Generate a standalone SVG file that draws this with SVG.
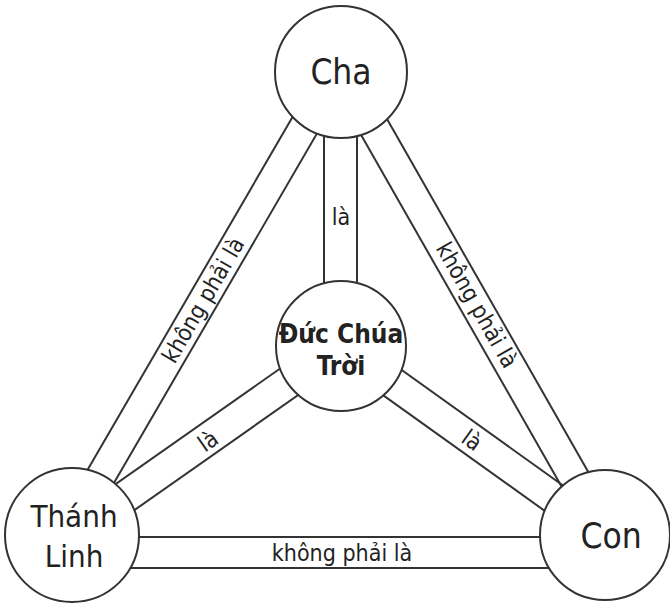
<svg xmlns="http://www.w3.org/2000/svg" width="670" height="606" viewBox="0 0 670 606">
<style>
.ln{stroke:#333;stroke-width:2;fill:none}
.nd{fill:#fff;stroke:#333;stroke-width:2}
text{font-family:"DejaVu Sans Condensed","DejaVu Sans",sans-serif;fill:#222;text-anchor:middle}
.big{font-size:35px}
.mid{font-size:31px}
.ctr{font-size:26px;font-weight:bold}
.lbl{font-size:23px}
</style>
<rect width="670" height="606" fill="#fff"/>
<g id="connectors">
  <g id="cha-thanhlinh">
    <line class="ln" x1="318.7" y1="72" x2="49.7" y2="535"/>
    <line class="ln" x1="352.7" y1="72" x2="83.7" y2="535"/>
    <text class="lbl" transform="translate(203,300) rotate(-59.8)" dominant-baseline="central">không phải là</text>
  </g>
  <g id="cha-con">
    <line class="ln" x1="325.2" y1="72" x2="589.2" y2="535"/>
    <line class="ln" x1="360.2" y1="72" x2="624.2" y2="535"/>
    <text class="lbl" transform="translate(477,305) rotate(60.3)" dominant-baseline="central">không phải là</text>
  </g>
  <g id="thanhlinh-con">
    <line class="ln" x1="72" y1="537" x2="605" y2="537"/>
    <line class="ln" x1="72" y1="568" x2="605" y2="568"/>
    <text class="lbl" x="342" y="553" dominant-baseline="central">không phải là</text>
  </g>
  <g id="cha-duc">
    <line class="ln" x1="324" y1="72" x2="324" y2="346"/>
    <line class="ln" x1="357" y1="72" x2="357" y2="346"/>
    <text class="lbl" x="341" y="217" dominant-baseline="central">là</text>
  </g>
  <g id="duc-thanhlinh">
    <line class="ln" x1="332.1" y1="332" x2="63.1" y2="521"/>
    <line class="ln" x1="349.9" y1="358.7" x2="80.9" y2="547.7"/>
    <text class="lbl" transform="translate(208,441) rotate(-35.1)" dominant-baseline="central">là</text>
  </g>
  <g id="duc-con">
    <line class="ln" x1="350" y1="333" x2="614" y2="522"/>
    <line class="ln" x1="332" y1="358.6" x2="596" y2="547.6"/>
    <text class="lbl" transform="translate(472,440) rotate(35.6)" dominant-baseline="central">là</text>
  </g>
</g>
<g id="cha">
  <circle class="nd" cx="341" cy="72" r="66"/>
  <text class="big" x="341" y="84">Cha</text>
</g>
<g id="duc-chua-troi">
  <circle class="nd" cx="341" cy="346" r="65"/>
  <text class="ctr" x="341" y="343">Đức Chúa</text>
  <text class="ctr" x="341" y="375">Trời</text>
</g>
<g id="thanh-linh">
  <circle class="nd" cx="72" cy="535" r="67"/>
  <text class="mid" x="74" y="527">Thánh</text>
  <text class="mid" x="74" y="567">Linh</text>
</g>
<g id="con">
  <circle class="nd" cx="605" cy="535" r="65"/>
  <text class="big" x="611" y="548">Con</text>
</g>
</svg>
